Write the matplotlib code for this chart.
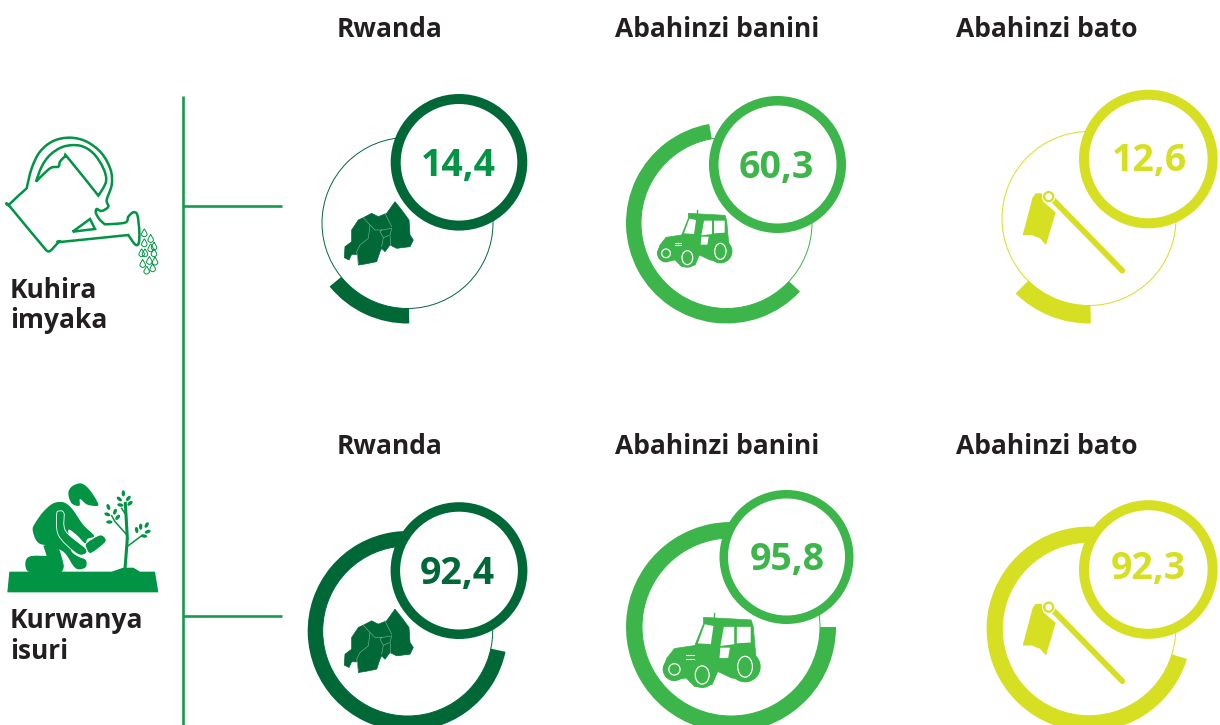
import numpy as np
import matplotlib
matplotlib.use('Agg')
import matplotlib.pyplot as plt
from matplotlib.patches import Wedge, Circle, PathPatch, Ellipse, Polygon
from matplotlib.path import Path

plt.rcParams['font.family'] = ['Open Sans', 'DejaVu Sans']

# data
groups = ['Rwanda', 'Abahinzi banini', 'Abahinzi bato']
row_labels = [['Kuhira', 'imyaka'], ['Kurwanya', 'isuri']]
values_irrigation = [14.4, 60.3, 12.6]
values_erosion = [92.4, 95.8, 92.3]

# colours
DARK = '#006837'
MID = '#3CB54A'
LIME = '#D7DF23'
ICON = '#009444'
TEXT = '#231F20'
ring_colors = [DARK, MID, LIME]
label_colors = [[ICON, MID, LIME], [DARK, MID, LIME]]

# layout, in pixels of the 1220x725 picture: ring x, y, radius, thick width, start
ring_layout = [
    [(407.5, 223, 85.5, 15, -1), (726.5, 223, 85.5, 15, -47), (1089, 218.5, 87, 18, -1)],
    [(407.7, 631, 85, 15, -78), (731, 627, 89, 16, -90), (1089, 629, 86.7, 15.7, -73)],
]
# badge x, y, radius, ring width
badge_layout = [
    [(459, 162.3, 68.3, 10), (777.5, 164.5, 68.5, 9.5), (1148.3, 159, 69.3, 10)],
    [(459, 570.6, 68.4, 9.5), (786.5, 557, 67, 8.5), (1148.3, 569.5, 69.3, 10)],
]
# value label centre x, baseline y
value_pos = [
    [(458, 176), (776, 178), (1149, 171)],
    [(457, 584), (787.5, 570), (1148, 579)],
]
header_x = [390, 717, 1047]
header_y = [37, 454]

fig = plt.figure(figsize=(12.2, 7.25), dpi=100)
ax = fig.add_axes([0, 0, 1, 1])
ax.set_xlim(0, 1220)
ax.set_ylim(725, 0)
ax.axis('off')


def z(pts, ox, oy, s=1 / 3):
    return np.array(pts, dtype=float) * s + np.array([ox, oy])


def blob(pts):
    # closed curve through the traced points, repeat a point to keep a corner
    pts = np.asarray(pts)
    n = len(pts)
    tang = []
    for i in range(n):
        a, b, c = pts[i - 1], pts[i], pts[(i + 1) % n]
        if (a == b).all() or (b == c).all():
            tang.append(np.zeros(2))
        else:
            tang.append((c - a) / 6)
    verts = [pts[0]]
    codes = [Path.MOVETO]
    for i in range(n):
        j = (i + 1) % n
        verts += [pts[i] + tang[i], pts[j] - tang[j], pts[j]]
        codes += [Path.CURVE4] * 3
    return Path(verts, codes)


def shape(pts, color, zorder=4, **kw):
    ax.add_patch(PathPatch(blob(pts), facecolor=color, edgecolor='none', zorder=zorder, **kw))


def outline(pts, color, lw, zorder=4):
    ax.add_patch(PathPatch(blob(pts), facecolor='none', edgecolor=color, lw=lw, zorder=zorder))


# connector lines
ax.plot([183, 183], [96, 725], color='#169B4D', lw=1.9, solid_capstyle='butt')
ax.plot([183, 282], [206, 206], color='#169B4D', lw=1.9, solid_capstyle='butt')
ax.plot([183, 282], [616, 616], color='#169B4D', lw=1.9, solid_capstyle='butt')

# headers and row labels
for y in header_y:
    for name, x in zip(groups, header_x):
        ax.text(x, y, name, ha='center', va='baseline', fontsize=19, fontweight='bold', color=TEXT)
for lines, ys in zip(row_labels, [(298, 328), (628, 659)]):
    for line, y in zip(lines, ys):
        ax.text(10, y, line, ha='left', va='baseline', fontsize=19, fontweight='bold', color=TEXT)

# rings
for r, vals in enumerate([values_irrigation, values_erosion]):
    for c, v in enumerate(vals):
        cx, cy, rad, w, start = ring_layout[r][c]
        col = ring_colors[c]
        ax.add_patch(Circle((cx, cy), rad, facecolor='none', edgecolor=col, lw=0.7, zorder=2))
        t0 = 90 + start
        ax.add_patch(Wedge((cx, cy), rad + w, t0, t0 + v / 100 * 360, width=w,
                           facecolor=col, edgecolor='none', zorder=3))
        bx, by, br, bw = badge_layout[r][c]
        ax.add_patch(Circle((bx, by), br - bw / 2, facecolor='white', edgecolor=col,
                            lw=bw * 0.72, zorder=6))
        tx, ty = value_pos[r][c]
        ax.text(tx, ty, f'{v:.1f}'.replace('.', ','), ha='center', va='baseline', fontsize=27,
                fontweight='bold', color=label_colors[r][c], zorder=7)


# Rwanda map icon
map_outline = [(30, 155), (50, 140), (50, 105), (70, 75), (85, 68), (110, 55), (130, 65), (155, 55),
               (180, 20), (200, 45), (222, 75), (225, 120), (235, 135), (225, 155),
               (185, 160), (165, 150), (150, 170), (140, 160), (135, 170), (125, 200), (90, 207),
               (70, 210), (68, 178), (50, 178), (42, 195), (28, 188)]
map_borders = [
    [(85, 68), (105, 90), (100, 130), (75, 150), (65, 170), (70, 205)],
    [(105, 90), (120, 105), (140, 105), (170, 100), (165, 120), (145, 128), (135, 110), (140, 105)],
    [(150, 55), (170, 95)],
    [(165, 122), (165, 150)],
    [(140, 155), (145, 128)],
]
for dy in [0, 407.5]:
    ax.add_patch(Polygon(z(map_outline, 335, 195 + dy), closed=True, facecolor=DARK, edgecolor=DARK,
                         lw=0.5, joinstyle='round', zorder=4))
    for b in map_borders:
        xy = z(b, 335, 195 + dy)
        ax.plot(xy[:, 0], xy[:, 1], color='#7FB89A', lw=0.4, zorder=5)


# tractor icon
def tractor(x0, y0, s):
    def t(pts):
        return (np.array(pts, dtype=float) - [140, 360]) * s + [x0, y0]

    body = [(235, 370), (345, 376), (350, 392), (356, 460), (362, 490), (345, 515), (300, 510),
            (268, 495), (255, 525), (215, 530), (195, 510), (160, 515), (142, 490), (150, 465),
            (168, 442), (215, 435), (235, 385)]
    ax.add_patch(Polygon(t(body), closed=True, facecolor=MID, edgecolor=MID, lw=0.5, zorder=4))
    ax.plot(*t([(260, 375), (260, 360)]).T, color=MID, lw=1, zorder=4)
    for win in [[(222, 430), (238, 386), (258, 390), (252, 432)],
                [(274, 436), (282, 392), (306, 392), (306, 432)],
                [(312, 392), (344, 392), (344, 428), (312, 430)],
                [(274, 440), (296, 440), (292, 464), (272, 464)]]:
        ax.add_patch(Polygon(t(win), closed=True, facecolor='white', edgecolor='none', zorder=5))
    for cxy, ro, rx, ry in [((331, 484), 36, 17, 24), ((232, 503), 30, 16, 21), ((168, 490), 27, 13, 13)]:
        c0 = t([cxy])[0]
        ax.add_patch(Circle(c0, ro * s, facecolor=MID, edgecolor='none', zorder=5))
        ax.add_patch(Ellipse(c0, 2 * rx * s, 2 * ry * s, facecolor='none', edgecolor='white', lw=0.9, zorder=6))
    ax.plot(*t([(195, 458), (212, 458)]).T, color='white', lw=0.8, zorder=6)
    ax.plot(*t([(195, 466), (212, 466)]).T, color='white', lw=0.8, zorder=6)


tractor(656.7, 210, 1 / 3)
tractor(662.3, 613, 1.3 / 3)

# hoe icon
for dy in [0, 410.5]:
    blade = [(128, 322), (137, 310), (155, 310), (160, 335), (197, 367), (168, 465),
             (150, 445), (125, 435), (98, 435)]
    ax.add_patch(Polygon(z(blade, 990, 90 + dy), closed=True, facecolor=LIME, edgecolor='none', zorder=4))
    h = z([(185, 325), (397, 542)], 990, 90 + dy)
    ax.plot(h[:, 0], h[:, 1], color=LIME, lw=4.2, solid_capstyle='round', zorder=4)
    ring = z([(176, 320)], 990, 90 + dy)[0]
    ax.add_patch(Circle(ring, 6.2, facecolor=LIME, edgecolor='white', lw=0.7, zorder=5))
    ax.add_patch(Circle(ring, 3.4, facecolor='white', edgecolor='none', zorder=5))

# watering can icon, traced on a 3x crop
can_body = [(28, 238), (80, 190), (80, 190), (95, 130), (120, 80), (160, 48), (210, 38), (260, 50),
            (305, 85), (332, 135), (335, 180), (320, 225), (325, 245), (305, 258), (290, 252), (288, 265),
            (300, 285), (315, 298), (315, 298), (375, 293), (385, 275), (400, 262), (412, 270), (418, 320),
            (416, 355), (405, 358), (385, 330), (385, 330), (190, 350), (178, 350), (150, 378), (138, 375),
            (138, 375), (30, 245)]
can_handle = [(108, 170), (108, 170), (125, 125), (150, 90), (190, 65), (240, 62), (280, 85), (310, 130),
              (318, 170), (295, 212), (295, 212), (205, 100), (195, 95), (180, 110), (175, 125), (150, 130)]
can_hole = [(218, 320), (218, 320), (270, 282), (270, 282), (285, 312), (285, 312)]
for part in [can_body, can_handle, can_hole]:
    outline(z(part, 0, 125), ICON, 1.8)

drops = [(433, 325), (452, 342), (433, 355), (462, 365), (452, 370), (425, 385), (435, 385), (462, 385),
         (448, 408), (465, 410), (428, 417), (440, 437), (458, 430)]
for dx, dy in drops:
    cx, cy = z([(dx, dy)], 0, 125)[0]
    drop = [(cx, cy - 4.5), (cx, cy - 4.5), (cx + 2.8, cy + 1), (cx, cy + 3.4), (cx - 2.8, cy + 1)]
    outline(drop, ICON, 0.7)

# farmer and tree icon
ground = [(28, 290), (335, 290), (370, 278), (400, 278), (420, 290), (465, 290), (475, 352), (22, 352)]
ax.add_patch(Polygon(z(ground, 0, 475), closed=True, facecolor=ICON, edgecolor='none', zorder=4))
head = [(205, 55), (215, 35), (240, 25), (260, 35), (280, 60), (295, 88), (285, 93), (260, 88), (240, 72),
        (238, 92), (215, 85)]
torso = [(98, 165), (105, 145), (130, 110), (160, 85), (190, 82), (215, 100), (250, 150), (282, 182), (262, 192),
         (255, 205), (230, 180), (205, 165), (205, 210), (135, 210), (110, 198)]
thigh = [(135, 205), (205, 200), (215, 230), (235, 245), (257, 255), (258, 275), (240, 283), (222, 275), (190, 230)]
knee = [(130, 212), (130, 212), (170, 212), (190, 265), (188, 285), (175, 292), (95, 292), (78, 280), (78, 255),
        (95, 243), (140, 243), (140, 243)]
arm = [(170, 118), (178, 108), (192, 115), (197, 168), (258, 222), (248, 240), (222, 230), (175, 180)]
hand = [(260, 203), (300, 180), (318, 193), (310, 208), (272, 235), (258, 218)]
for part in [head, torso, thigh, knee]:
    shape(z(part, 0, 475), ICON)
for part in [arm, hand]:
    ax.add_patch(PathPatch(blob(z(part, 0, 475)), facecolor=ICON, edgecolor='white', lw=0.6, zorder=5))

tree_lines = [[(375, 282), (382, 190), (376, 85)], [(381, 180), (345, 140), (335, 122)], [(385, 212), (425, 182)],
              [(378, 120), (365, 100)]]
for i, b in enumerate(tree_lines):
    xy = z(b, 0, 475)
    ax.plot(xy[:, 0], xy[:, 1], color=ICON, lw=2.2 if i == 0 else 1.1, zorder=4)
leaves = [(370, 55, 90), (358, 72, 40), (385, 70, 130), (361, 90, 10), (390, 85, 140), (325, 96, 70), (345, 110, 110),
          (322, 118, 20), (353, 127, 130), (328, 141, 0), (410, 165, 80), (422, 155, 90), (440, 150, 120),
          (443, 170, 160), (432, 183, 10)]
for lx, ly, ang in leaves:
    ax.add_patch(Ellipse(z([(lx, ly)], 0, 475)[0], 6.2, 3.4, angle=ang, facecolor=ICON, edgecolor='none', zorder=4))

fig.savefig('out.png', dpi=100)
